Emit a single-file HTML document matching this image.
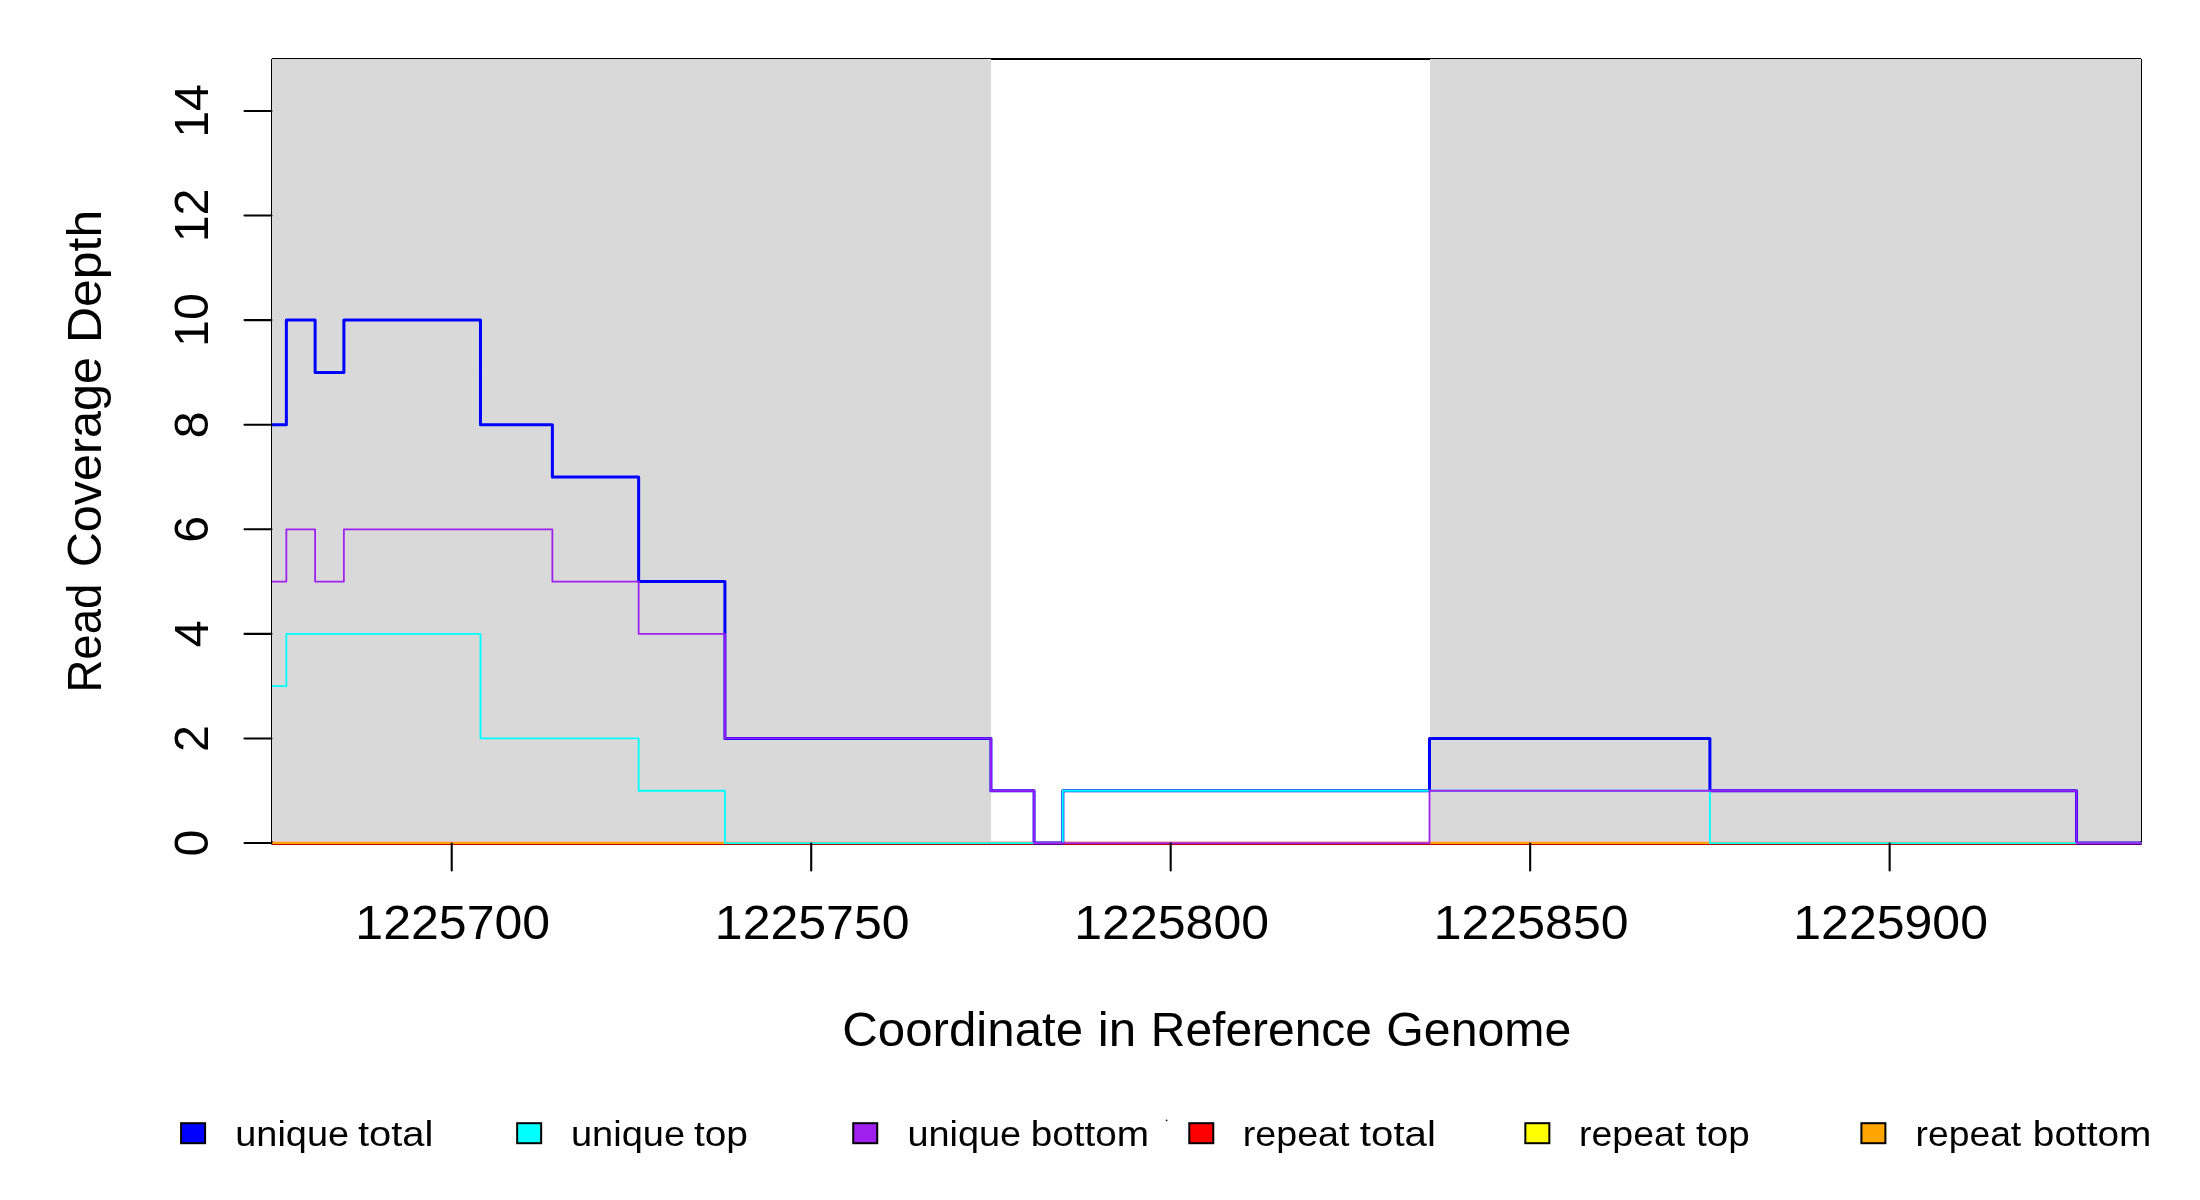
<!DOCTYPE html><html><head><meta charset="utf-8"><style>html,body{margin:0;padding:0;background:#fff;width:2200px;height:1200px;overflow:hidden}svg{display:block;will-change:transform}text{font-family:"Liberation Sans",sans-serif;fill:#000}</style></head><body>
<svg width="2200" height="1200" viewBox="0 0 2200 1200">
<rect x="0" y="0" width="2200" height="1200" fill="#fff"/>
<path d="M272 59 H2141 M272 59 V844 M2141 59 V844" fill="none" stroke="#000" stroke-width="2"/>
<rect x="272" y="59" width="719" height="782.2" fill="#d9d9d9"/>
<rect x="1430" y="59" width="711" height="782.2" fill="#d9d9d9"/>
<path d="M271.45 844.50 H2141.50" fill="none" stroke="#000" stroke-width="1"/>
<path d="M271.98 843.20 H2141.28" fill="none" stroke="#ff0000" stroke-width="3.0"/>
<path d="M271.98 843.00 H2141.28" fill="none" stroke="#ffff00" stroke-width="2"/>
<path d="M271.98 843.00 H2141.28" fill="none" stroke="#ffa500" stroke-width="2"/>
<path d="M271.98 424.71 L286.36 424.71 L286.36 320.12 L315.12 320.12 L315.12 372.41 L343.88 372.41 L343.88 320.12 L480.48 320.12 L480.48 424.71 L552.37 424.71 L552.37 477.00 L638.65 477.00 L638.65 581.59 L724.92 581.59 L724.92 738.46 L990.94 738.46 L990.94 790.76 L1034.08 790.76 L1034.08 843.05 L1062.84 843.05 L1062.84 790.76 L1429.51 790.76 L1429.51 738.46 L1709.90 738.46 L1709.90 790.76 L2076.57 790.76 L2076.57 843.05 L2141.28 843.05" fill="none" stroke="#0000ff" stroke-width="3.00" stroke-linejoin="round"/>
<path d="M271.98 686.17 L286.36 686.17 L286.36 633.88 L480.48 633.88 L480.48 738.46 L638.65 738.46 L638.65 790.76 L724.92 790.76 L724.92 843.05 L1062.84 843.05 L1062.84 790.76 L1709.90 790.76 L1709.90 843.05 L2141.28 843.05" fill="none" stroke="#00ffff" stroke-width="1.80" stroke-linejoin="round"/>
<path d="M271.98 581.59 L286.36 581.59 L286.36 529.29 L315.12 529.29 L315.12 581.59 L343.88 581.59 L343.88 529.29 L552.37 529.29 L552.37 581.59 L638.65 581.59 L638.65 633.88 L724.92 633.88 L724.92 738.46 L990.94 738.46 L990.94 790.76 L1034.08 790.76 L1034.08 843.05 L1429.51 843.05 L1429.51 790.76 L2076.57 790.76 L2076.57 843.05 L2141.28 843.05" fill="none" stroke="#a020f0" stroke-width="1.80" stroke-linejoin="round"/>
<line x1="244.5" y1="843.05" x2="271.45" y2="843.05" stroke="#000" stroke-width="2.1" stroke-linecap="round"/>
<line x1="244.5" y1="738.46" x2="271.45" y2="738.46" stroke="#000" stroke-width="2.1" stroke-linecap="round"/>
<line x1="244.5" y1="633.88" x2="271.45" y2="633.88" stroke="#000" stroke-width="2.1" stroke-linecap="round"/>
<line x1="244.5" y1="529.29" x2="271.45" y2="529.29" stroke="#000" stroke-width="2.1" stroke-linecap="round"/>
<line x1="244.5" y1="424.71" x2="271.45" y2="424.71" stroke="#000" stroke-width="2.1" stroke-linecap="round"/>
<line x1="244.5" y1="320.12" x2="271.45" y2="320.12" stroke="#000" stroke-width="2.1" stroke-linecap="round"/>
<line x1="244.5" y1="215.53" x2="271.45" y2="215.53" stroke="#000" stroke-width="2.1" stroke-linecap="round"/>
<line x1="244.5" y1="110.95" x2="271.45" y2="110.95" stroke="#000" stroke-width="2.1" stroke-linecap="round"/>
<line x1="451.72" y1="843.5" x2="451.72" y2="870.5" stroke="#000" stroke-width="2.1" stroke-linecap="round"/>
<line x1="811.20" y1="843.5" x2="811.20" y2="870.5" stroke="#000" stroke-width="2.1" stroke-linecap="round"/>
<line x1="1170.68" y1="843.5" x2="1170.68" y2="870.5" stroke="#000" stroke-width="2.1" stroke-linecap="round"/>
<line x1="1530.16" y1="843.5" x2="1530.16" y2="870.5" stroke="#000" stroke-width="2.1" stroke-linecap="round"/>
<line x1="1889.64" y1="843.5" x2="1889.64" y2="870.5" stroke="#000" stroke-width="2.1" stroke-linecap="round"/>
<text x="0" y="0" font-size="47.80" text-anchor="middle" transform="translate(452.72 939.00) scale(1.0470 1)">1225700</text>
<text x="0" y="0" font-size="47.80" text-anchor="middle" transform="translate(812.20 939.00) scale(1.0470 1)">1225750</text>
<text x="0" y="0" font-size="47.80" text-anchor="middle" transform="translate(1171.68 939.00) scale(1.0470 1)">1225800</text>
<text x="0" y="0" font-size="47.80" text-anchor="middle" transform="translate(1531.16 939.00) scale(1.0470 1)">1225850</text>
<text x="0" y="0" font-size="47.80" text-anchor="middle" transform="translate(1890.64 939.00) scale(1.0470 1)">1225900</text>
<text x="0" y="0" font-size="47.80" text-anchor="middle" transform="translate(208.00 843.05) rotate(-90) scale(1.0100 1)">0</text>
<text x="0" y="0" font-size="47.80" text-anchor="middle" transform="translate(208.00 738.46) rotate(-90) scale(1.0100 1)">2</text>
<text x="0" y="0" font-size="47.80" text-anchor="middle" transform="translate(208.00 633.88) rotate(-90) scale(1.0100 1)">4</text>
<text x="0" y="0" font-size="47.80" text-anchor="middle" transform="translate(208.00 529.29) rotate(-90) scale(1.0100 1)">6</text>
<text x="0" y="0" font-size="47.80" text-anchor="middle" transform="translate(208.00 424.71) rotate(-90) scale(1.0100 1)">8</text>
<text x="0" y="0" font-size="47.80" text-anchor="middle" transform="translate(208.00 320.12) rotate(-90) scale(1.0100 1)">10</text>
<text x="0" y="0" font-size="47.80" text-anchor="middle" transform="translate(208.00 215.53) rotate(-90) scale(1.0100 1)">12</text>
<text x="0" y="0" font-size="47.80" text-anchor="middle" transform="translate(208.00 110.95) rotate(-90) scale(1.0100 1)">14</text>
<text x="0" y="0" font-size="47.50" transform="translate(842.18 1045.80) scale(1.0371 1)">Coordinate</text>
<text x="0" y="0" font-size="47.50" transform="translate(1097.78 1045.80) scale(1.0387 1)">in</text>
<text x="0" y="0" font-size="47.50" transform="translate(1150.86 1045.80) scale(1.0089 1)">Reference</text>
<text x="0" y="0" font-size="47.50" transform="translate(1386.27 1045.80) scale(1.0163 1)">Genome</text>
<text x="0" y="0" font-size="47.50" transform="translate(100.80 692.59) rotate(-90) scale(0.9603 1)">Read</text>
<text x="0" y="0" font-size="47.50" transform="translate(100.80 567.29) rotate(-90) scale(1.0210 1)">Coverage</text>
<text x="0" y="0" font-size="47.50" transform="translate(100.80 342.95) rotate(-90) scale(1.0504 1)">Depth</text>
<rect x="181.10" y="1123.20" width="24.00" height="20.00" fill="#0000ff" stroke="#000" stroke-width="2"/>
<text x="0" y="0" font-size="35.70" transform="translate(235.28 1145.60) scale(1.0612 1)">unique</text>
<text x="0" y="0" font-size="35.70" transform="translate(357.88 1145.60) scale(1.1188 1)">total</text>
<rect x="517.16" y="1123.20" width="24.00" height="20.00" fill="#00ffff" stroke="#000" stroke-width="2"/>
<text x="0" y="0" font-size="35.70" transform="translate(570.97 1145.60) scale(1.0641 1)">unique</text>
<text x="0" y="0" font-size="35.70" transform="translate(693.91 1145.60) scale(1.0894 1)">top</text>
<rect x="853.22" y="1123.20" width="24.00" height="20.00" fill="#a020f0" stroke="#000" stroke-width="2"/>
<text x="0" y="0" font-size="35.70" transform="translate(907.38 1145.60) scale(1.0607 1)">unique</text>
<text x="0" y="0" font-size="35.70" transform="translate(1030.73 1145.60) scale(1.0848 1)">bottom</text>
<rect x="1189.28" y="1123.20" width="24.00" height="20.00" fill="#ff0000" stroke="#000" stroke-width="2"/>
<text x="0" y="0" font-size="35.70" transform="translate(1242.79 1145.60) scale(1.0535 1)">repeat</text>
<text x="0" y="0" font-size="35.70" transform="translate(1359.87 1145.60) scale(1.1266 1)">total</text>
<rect x="1525.34" y="1123.20" width="24.00" height="20.00" fill="#ffff00" stroke="#000" stroke-width="2"/>
<text x="0" y="0" font-size="35.70" transform="translate(1579.10 1145.60) scale(1.0485 1)">repeat</text>
<text x="0" y="0" font-size="35.70" transform="translate(1696.02 1145.60) scale(1.0830 1)">top</text>
<rect x="1861.40" y="1123.20" width="24.00" height="20.00" fill="#ffa500" stroke="#000" stroke-width="2"/>
<text x="0" y="0" font-size="35.70" transform="translate(1915.51 1145.60) scale(1.0444 1)">repeat</text>
<text x="0" y="0" font-size="35.70" transform="translate(2032.83 1145.60) scale(1.0867 1)">bottom</text>
<circle cx="1166.6" cy="1120.3" r="0.9" fill="#000"/>
</svg></body></html>
